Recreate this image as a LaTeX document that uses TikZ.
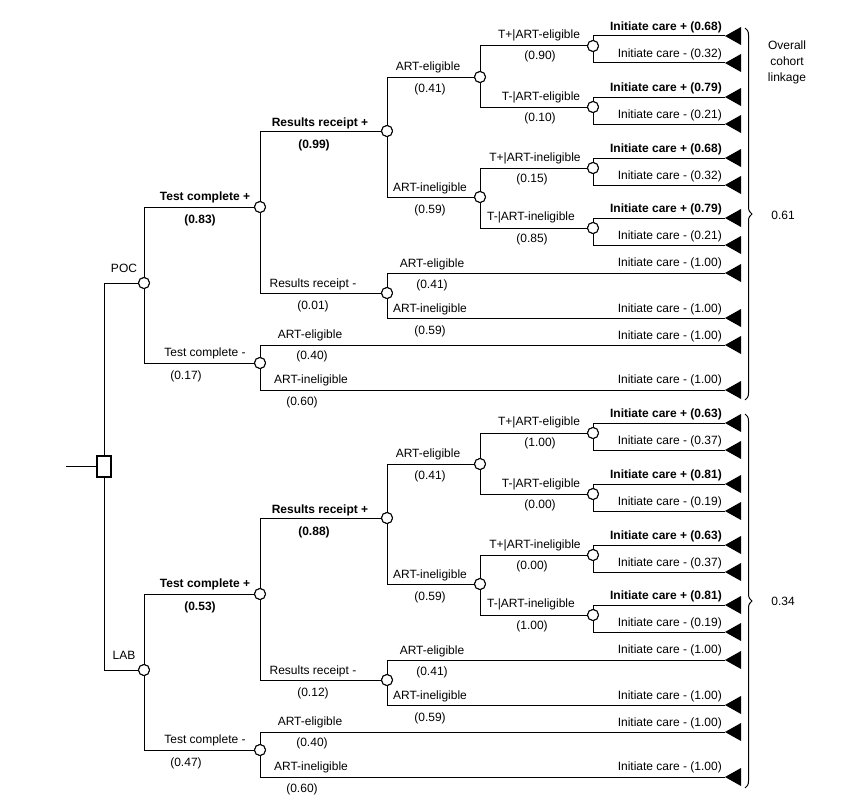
\documentclass[tikz,border=0pt]{standalone}
\usepackage{fontspec}
\setmainfont{Liberation Sans}
\usetikzlibrary{decorations.pathreplacing}
\tikzset{
 ch/.style={circle,draw,fill=white,inner sep=0pt,minimum width=10pt,minimum height=11pt,line width=1pt},
 lb/.style={inner sep=0pt,font=\fontsize{12}{12}\selectfont},
 bl/.style={lb,font=\fontsize{12}{12}\selectfont\bfseries},
 rl/.style={lb,anchor=east},
 rb/.style={bl,anchor=east},
 br/.style={line width=1pt},
}
\newcommand\term[2]{\coordinate (#1) at (725,#2); \fill (#1) -- ++(16,-9) -- ++(0,18) -- cycle;}
\newcommand\leafpair[4]{%
 \node[ch] (#1) at (593,#2) {};
 \term{#1a}{#2-10}\term{#1b}{#2+17}
 \draw[br] (#1) |- (#1a); \draw[br] (#1) |- (#1b);
 \node[rb] at (722,#2-19) {Initiate care + (#3)};
 \node[rl] at (722,#2+8) {Initiate care - (#4)};
}
\newcommand\halftree{%
 \node[ch] (c0) at (144,283) {};
 \node[ch] (tc) at (260,207) {};
 \node[ch] (rr) at (387,131) {};
 \node[ch] (ae) at (480,77) {};
 \node[ch] (ai) at (480,197) {};
 \node[ch] (rm) at (387,293) {};
 \node[ch] (tm) at (260,363) {};
 \draw[br] (c0) |- (tc); \draw[br] (c0) |- (tm);
 \draw[br] (tc) |- (rr); \draw[br] (tc) |- (rm);
 \draw[br] (rr) |- (ae); \draw[br] (rr) |- (ai);
 \leafpair{l1}{46}{\icA}{\icAm}
 \leafpair{l2}{107}{\icB}{\icBm}
 \leafpair{l3}{168}{\icA}{\icAm}
 \leafpair{l4}{228}{\icB}{\icBm}
 \draw[br] (ae) |- (l1); \draw[br] (ae) |- (l2);
 \draw[br] (ai) |- (l3); \draw[br] (ai) |- (l4);
 \term{t1}{273}\term{t2}{318}\term{t3}{345}\term{t4}{390}
 \draw[br] (rm) |- (t1); \draw[br] (rm) |- (t2);
 \draw[br] (tm) |- (t3); \draw[br] (tm) |- (t4);
 \foreach \n in {c0,tc,rr,ae,ai,rm,tm,l1,l2,l3,l4} {\node[ch] at (\n) {};}
 \node[lb] at (124,268) {\arm};
 \node[bl] at (205,197) {Test complete +}; \node[bl] at (200,220) {(\tcp)};
 \node[bl] at (320,123) {Results receipt +}; \node[bl] at (314,145) {(\rrp)};
 \node[lb] at (428,67) {ART-eligible}; \node[lb] at (430,89) {(0.41)};
 \node[lb] at (539,35) {T+|ART-eligible}; \node[lb] at (540,56) {(\tpe)};
 \node[lb] at (541,97) {T-|ART-eligible}; \node[lb] at (540,118) {(\tme)};
 \node[lb] at (430,188) {ART-ineligible}; \node[lb] at (430,210) {(0.59)};
 \node[lb] at (535,158) {T+|ART-ineligible}; \node[lb] at (532,179) {(\tpi)};
 \node[lb] at (531,217) {T-|ART-ineligible}; \node[lb] at (532,239) {(\tmi)};
 \node[lb] at (313,284) {Results receipt -}; \node[lb] at (313,306) {(\rrm)};
 \node[lb] at (432,264) {ART-eligible}; \node[lb] at (432,285) {(0.41)};
 \node[lb] at (430,309) {ART-ineligible}; \node[lb] at (430,331) {(0.59)};
 \node[lb] at (205,353) {Test complete -}; \node[lb] at (186,376) {(\tcm)};
 \node[lb] at (310,335) {ART-eligible}; \node[lb] at (312,356) {(0.40)};
 \node[lb] at (311,380) {ART-ineligible}; \node[lb] at (302,402) {(0.60)};
 \foreach \yy in {263,309,336,380} {\node[rl] at (722,\yy) {Initiate care - (1.00)};}
}
\begin{document}
\begin{tikzpicture}[x=1pt,y=-1pt]
\useasboundingbox (0,0) rectangle (843,800);
\begin{scope}[name prefix=P-]
 \def\arm{POC}\def\tcp{0.83}\def\tcm{0.17}\def\rrp{0.99}\def\rrm{0.01}
 \def\tpe{0.90}\def\tme{0.10}\def\tpi{0.15}\def\tmi{0.85}
 \def\icA{0.68}\def\icAm{0.32}\def\icB{0.79}\def\icBm{0.21}
 \halftree
\end{scope}
\begin{scope}[yshift=-387pt,name prefix=L-]
 \def\arm{LAB}\def\tcp{0.53}\def\tcm{0.47}\def\rrp{0.88}\def\rrm{0.12}
 \def\tpe{1.00}\def\tme{0.00}\def\tpi{0.00}\def\tmi{1.00}
 \def\icA{0.63}\def\icAm{0.37}\def\icB{0.81}\def\icBm{0.19}
 \halftree
\end{scope}
\node[draw,line width=2pt,fill=white,minimum width=14pt,minimum height=21pt,inner sep=0pt] (root) at (104,466) {};
\coordinate (in) at (66,466);
\draw[br] (in) -- (root);
\draw[br] (root) |- (P-c0); \draw[br] (root) |- (L-c0);
\node[draw,line width=2pt,fill=white,minimum width=14pt,minimum height=21pt,inner sep=0pt] at (104,466) {};
\draw[br,decorate,decoration={brace,amplitude=7pt}] (745,28) -- (745,400);
\draw[br,decorate,decoration={brace,amplitude=7pt}] (745,414) -- (745,788);
\node[lb,align=center] at (787,62) {Overall\\[4pt]cohort\\[4pt]linkage};
\node[lb] at (783,215) {0.61};
\node[lb] at (783,601) {0.34};
\end{tikzpicture}
\end{document}
